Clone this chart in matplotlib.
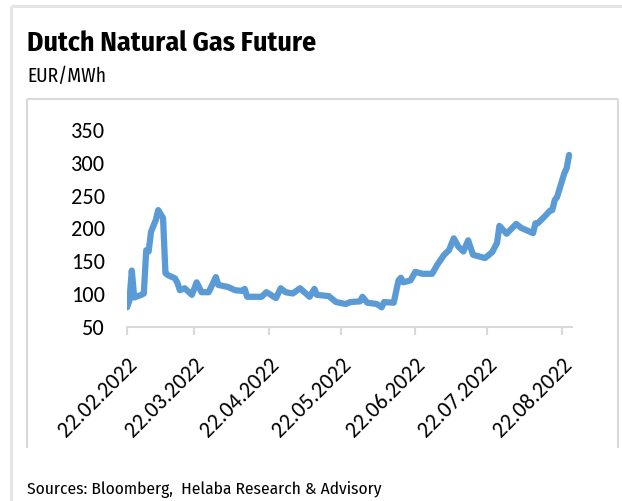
import matplotlib
matplotlib.use("Agg")
import matplotlib.pyplot as plt
from matplotlib.lines import Line2D
import pandas as pd

# Daten
dates = ["22.02", "23.02", "24.02", "25.02", "28.02", "01.03", "02.03", "03.03", "04.03", "06.03",
         "07.03", "08.03", "09.03", "10.03", "11.03", "14.03", "15.03", "16.03", "18.03", "21.03",
         "23.03", "25.03", "28.03", "31.03", "01.04", "05.04", "08.04", "11.04", "12.04", "13.04",
         "19.04", "21.04", "22.04", "25.04", "27.04", "29.04", "02.05", "05.05", "09.05", "11.05",
         "12.05", "17.05", "20.05", "24.05", "26.05", "30.05", "31.05", "02.06", "06.06", "08.06",
         "09.06", "13.06", "15.06", "16.06", "17.06", "20.06", "22.06", "25.06", "29.06", "01.07",
         "04.07", "06.07", "08.07", "10.07", "12.07", "14.07", "16.07", "18.07", "21.07", "24.07",
         "26.07", "27.07", "30.07", "03.08", "05.08", "10.08", "11.08", "12.08", "15.08", "17.08",
         "18.08", "19.08", "20.08", "23.08", "24.08", "25.08"]
prices = [80, 90, 136, 95, 99, 101, 167, 165, 195, 213,
          228, 222, 216, 132, 129, 124, 117, 106, 109, 99,
          118, 103, 103, 126, 114, 111, 106, 105, 108, 96,
          96, 103, 101, 94, 109, 103, 101, 109, 96, 108,
          99, 97, 88, 85, 88, 89, 96, 87, 85, 80,
          88, 87, 121, 125, 118, 121, 134, 131, 131, 144,
          160, 167, 185, 172, 165, 182, 160, 158, 155, 164,
          178, 204, 192, 207, 201, 193, 208, 208, 219, 227,
          228, 243, 248, 284, 292, 312]
tick_dates = ["22.02.2022", "22.03.2022", "22.04.2022", "22.05.2022",
              "22.06.2022", "22.07.2022", "22.08.2022"]
y_ticks = [50, 100, 150, 200, 250, 300, 350]

x = pd.to_datetime([d + ".2022" for d in dates], format="%d.%m.%Y")
xt = pd.to_datetime(tick_dates, format="%d.%m.%Y")

W, H = 622, 501
fig = plt.figure(figsize=(W / 100, H / 100), dpi=100)
fig.patch.set_facecolor("white")

narrow = ["Fira Sans Condensed", "Liberation Sans", "DejaVu Sans"]
tickfont = ["Carlito", "Liberation Sans", "DejaVu Sans"]


def px(xp, yp):
    return xp / W, 1 - yp / H


# Rahmen
def fline(x0, y0, x1, y1, color, lw):
    a = px(x0, y0)
    b = px(x1, y1)
    fig.add_artist(Line2D([a[0], b[0]], [a[1], b[1]], transform=fig.transFigure,
                          color=color, lw=lw, solid_capstyle="butt"))


fline(11, 6, 622, 6, "#e4e4e4", 2.2)
fline(11, 6, 11, 501, "#e4e4e4", 2.2)
fline(27, 99, 618, 99, "#d9d9d9", 1.5)
fline(27, 99, 27, 448, "#d9d9d9", 1.5)
fline(618, 99, 618, 448, "#d9d9d9", 1.5)

fig.text(*px(27, 51), "Dutch Natural Gas Future", family=narrow, fontweight="bold",
         fontsize=20, ha="left", va="baseline")
fig.text(*px(27, 82), "EUR/MWh", family=narrow, fontsize=14, ha="left", va="baseline")
fig.text(*px(27, 494), "Sources: Bloomberg,  Helaba Research & Advisory", family=narrow,
         fontsize=12.5, ha="left", va="baseline")

l, b = px(127, 327)
r, t = px(572, 130)
ax = fig.add_axes([l, b, r - l, t - b])
ax.plot(x, prices, color="#5b9bd5", lw=4.5, solid_joinstyle="round", solid_capstyle="round")

ax.set_xlim(pd.Timestamp("2022-02-22"), pd.Timestamp("2022-08-26 05:00"))
ax.set_ylim(50, 350)
ax.set_yticks(y_ticks)
ax.set_xticks(xt)
ax.set_xticklabels([d.strftime("%d.%m.%Y") for d in xt], rotation=45, ha="right",
                   va="top", rotation_mode="anchor", family=tickfont, fontsize=16)
for lab in ax.get_yticklabels():
    lab.set_family(tickfont)
    lab.set_fontsize(16)

for s in ["top", "right", "left"]:
    ax.spines[s].set_visible(False)
ax.spines["bottom"].set_color("#d9d9d9")
ax.spines["bottom"].set_linewidth(1.5)
ax.tick_params(axis="x", length=6, width=1.5, color="#d9d9d9", pad=14)
ax.tick_params(axis="y", length=0, pad=16)
ax.patch.set_alpha(0)

fig.savefig("out.png", dpi=100)
